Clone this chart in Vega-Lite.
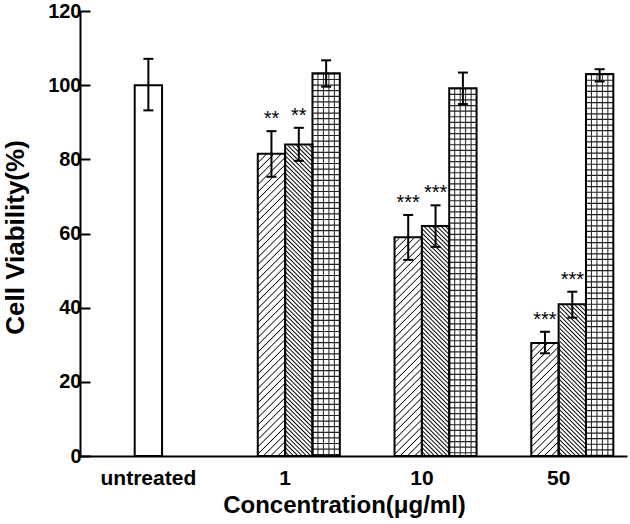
{
"$schema":"https://vega.github.io/schema/vega-lite/v6.json",
"width":547,"height":445,
"autosize":{"type":"none"},
"padding":{"left":80,"top":11,"right":3,"bottom":68},
"background":"white",
"config":{"view":{"stroke":null},"font":"Liberation Sans"},
"data":{"values":[
{"conc":"untreated","series":"u","mean":100,"lo":93.2,"hi":107.1,"sig":""},
{"conc":"1","series":"a","mean":81.5,"lo":75.3,"hi":87.6,"sig":"**"},
{"conc":"1","series":"b","mean":84.0,"lo":79.6,"hi":88.5,"sig":"**"},
{"conc":"1","series":"c","mean":103.2,"lo":99.6,"hi":106.7,"sig":""},
{"conc":"10","series":"a","mean":59.0,"lo":52.9,"hi":65.0,"sig":"***"},
{"conc":"10","series":"b","mean":62.0,"lo":56.4,"hi":67.6,"sig":"***"},
{"conc":"10","series":"c","mean":99.2,"lo":94.9,"hi":103.4,"sig":""},
{"conc":"50","series":"a","mean":30.5,"lo":27.7,"hi":33.5,"sig":"***"},
{"conc":"50","series":"b","mean":40.9,"lo":37.3,"hi":44.3,"sig":"***"},
{"conc":"50","series":"c","mean":103.0,"lo":101.0,"hi":104.3,"sig":""}
]},
"encoding":{
"x":{"field":"conc","type":"nominal","sort":["untreated","1","10","50"],"scale":{"domain":["untreated","1","10","50"],"paddingInner":0.2,"paddingOuter":0.1},"title":"Concentration(μg/ml)",
"axis":{"ticks":false,"labelAngle":0,"labelPadding":11,"labelFont":"Liberation Sans","labelFontSize":21,"labelFontWeight":"bold","labelColor":"#000","domainColor":"#000","domainWidth":2,"titleFont":"Liberation Sans","titleFontSize":24,"titleFontWeight":"bold","titleColor":"#000","titleX":264,"titleY":56,"titleBaseline":"alphabetic","zindex":1,"grid":false}}
},
"layer":[
{"transform":[{"filter":"datum.conc === 'untreated'"}],
"mark":{"type":"bar","width":27.35,"fill":"#fff","stroke":"#000","strokeWidth":2},
"encoding":{"y":{"field":"mean","type":"quantitative","scale":{"domain":[0,120],"nice":false},"title":"Cell Viability(%)",
"axis":{"values":[0,10,20,30,40,50,60,70,80,90,100,110,120],"labelExpr":"datum.value % 20 === 0 ? datum.label : ''","tickSize":{"condition":{"test":"datum.value % 20 === 0","value":-10},"value":-5},"tickWidth":2,"tickColor":"#000","domainColor":"#000","domainWidth":2,"labelFont":"Liberation Sans","labelFontWeight":"bold","labelFontSize":20,"labelColor":"#000","labelPadding":9,"titleFont":"Liberation Sans","titleFontWeight":"bold","titleFontSize":26,"titleColor":"#000","titleX":-57,"titleY":226,"titleAngle":-90,"titleBaseline":"alphabetic","titleAlign":"center","grid":false,"zindex":1}}}},
{"transform":[{"filter":"datum.series === 'a'"}],
"mark":{"type":"bar","strokeWidth":0,"fill":{"gradient":"linear","x1":0,"y1":0,"x2":0.087,"y2":1.074,"stops":[
{"offset":0.017,"color":"#fff"},{"offset":0.02,"color":"#000"},{"offset":0.023,"color":"#fff"},
{"offset":0.037,"color":"#fff"},{"offset":0.04,"color":"#000"},{"offset":0.043,"color":"#fff"},
{"offset":0.057,"color":"#fff"},{"offset":0.06,"color":"#000"},{"offset":0.063,"color":"#fff"},
{"offset":0.077,"color":"#fff"},{"offset":0.08,"color":"#000"},{"offset":0.083,"color":"#fff"},
{"offset":0.097,"color":"#fff"},{"offset":0.1,"color":"#000"},{"offset":0.103,"color":"#fff"},
{"offset":0.117,"color":"#fff"},{"offset":0.12,"color":"#000"},{"offset":0.123,"color":"#fff"},
{"offset":0.137,"color":"#fff"},{"offset":0.14,"color":"#000"},{"offset":0.143,"color":"#fff"},
{"offset":0.157,"color":"#fff"},{"offset":0.16,"color":"#000"},{"offset":0.163,"color":"#fff"},
{"offset":0.177,"color":"#fff"},{"offset":0.18,"color":"#000"},{"offset":0.183,"color":"#fff"},
{"offset":0.197,"color":"#fff"},{"offset":0.2,"color":"#000"},{"offset":0.203,"color":"#fff"},
{"offset":0.217,"color":"#fff"},{"offset":0.22,"color":"#000"},{"offset":0.223,"color":"#fff"},
{"offset":0.237,"color":"#fff"},{"offset":0.24,"color":"#000"},{"offset":0.243,"color":"#fff"},
{"offset":0.257,"color":"#fff"},{"offset":0.26,"color":"#000"},{"offset":0.263,"color":"#fff"},
{"offset":0.277,"color":"#fff"},{"offset":0.28,"color":"#000"},{"offset":0.283,"color":"#fff"},
{"offset":0.297,"color":"#fff"},{"offset":0.3,"color":"#000"},{"offset":0.303,"color":"#fff"},
{"offset":0.317,"color":"#fff"},{"offset":0.32,"color":"#000"},{"offset":0.323,"color":"#fff"},
{"offset":0.337,"color":"#fff"},{"offset":0.34,"color":"#000"},{"offset":0.343,"color":"#fff"},
{"offset":0.357,"color":"#fff"},{"offset":0.36,"color":"#000"},{"offset":0.363,"color":"#fff"},
{"offset":0.377,"color":"#fff"},{"offset":0.38,"color":"#000"},{"offset":0.383,"color":"#fff"},
{"offset":0.397,"color":"#fff"},{"offset":0.4,"color":"#000"},{"offset":0.403,"color":"#fff"},
{"offset":0.417,"color":"#fff"},{"offset":0.42,"color":"#000"},{"offset":0.423,"color":"#fff"},
{"offset":0.437,"color":"#fff"},{"offset":0.44,"color":"#000"},{"offset":0.443,"color":"#fff"},
{"offset":0.457,"color":"#fff"},{"offset":0.46,"color":"#000"},{"offset":0.463,"color":"#fff"},
{"offset":0.477,"color":"#fff"},{"offset":0.48,"color":"#000"},{"offset":0.483,"color":"#fff"},
{"offset":0.497,"color":"#fff"},{"offset":0.5,"color":"#000"},{"offset":0.503,"color":"#fff"},
{"offset":0.517,"color":"#fff"},{"offset":0.52,"color":"#000"},{"offset":0.523,"color":"#fff"},
{"offset":0.537,"color":"#fff"},{"offset":0.54,"color":"#000"},{"offset":0.543,"color":"#fff"},
{"offset":0.557,"color":"#fff"},{"offset":0.56,"color":"#000"},{"offset":0.563,"color":"#fff"},
{"offset":0.577,"color":"#fff"},{"offset":0.58,"color":"#000"},{"offset":0.583,"color":"#fff"},
{"offset":0.597,"color":"#fff"},{"offset":0.6,"color":"#000"},{"offset":0.603,"color":"#fff"},
{"offset":0.617,"color":"#fff"},{"offset":0.62,"color":"#000"},{"offset":0.623,"color":"#fff"},
{"offset":0.637,"color":"#fff"},{"offset":0.64,"color":"#000"},{"offset":0.643,"color":"#fff"},
{"offset":0.657,"color":"#fff"},{"offset":0.66,"color":"#000"},{"offset":0.663,"color":"#fff"},
{"offset":0.677,"color":"#fff"},{"offset":0.68,"color":"#000"},{"offset":0.683,"color":"#fff"},
{"offset":0.697,"color":"#fff"},{"offset":0.7,"color":"#000"},{"offset":0.703,"color":"#fff"},
{"offset":0.717,"color":"#fff"},{"offset":0.72,"color":"#000"},{"offset":0.723,"color":"#fff"},
{"offset":0.737,"color":"#fff"},{"offset":0.74,"color":"#000"},{"offset":0.743,"color":"#fff"},
{"offset":0.757,"color":"#fff"},{"offset":0.76,"color":"#000"},{"offset":0.763,"color":"#fff"},
{"offset":0.777,"color":"#fff"},{"offset":0.78,"color":"#000"},{"offset":0.783,"color":"#fff"},
{"offset":0.797,"color":"#fff"},{"offset":0.8,"color":"#000"},{"offset":0.803,"color":"#fff"},
{"offset":0.817,"color":"#fff"},{"offset":0.82,"color":"#000"},{"offset":0.823,"color":"#fff"},
{"offset":0.837,"color":"#fff"},{"offset":0.84,"color":"#000"},{"offset":0.843,"color":"#fff"},
{"offset":0.857,"color":"#fff"},{"offset":0.86,"color":"#000"},{"offset":0.863,"color":"#fff"},
{"offset":0.877,"color":"#fff"},{"offset":0.88,"color":"#000"},{"offset":0.883,"color":"#fff"},
{"offset":0.897,"color":"#fff"},{"offset":0.9,"color":"#000"},{"offset":0.903,"color":"#fff"},
{"offset":0.917,"color":"#fff"},{"offset":0.92,"color":"#000"},{"offset":0.923,"color":"#fff"},
{"offset":0.937,"color":"#fff"},{"offset":0.94,"color":"#000"},{"offset":0.943,"color":"#fff"},
{"offset":0.957,"color":"#fff"},{"offset":0.96,"color":"#000"},{"offset":0.963,"color":"#fff"},
{"offset":0.977,"color":"#fff"},{"offset":0.98,"color":"#000"},{"offset":0.983,"color":"#fff"}
]}},
"encoding":{"xOffset":{"field":"series","type":"nominal","scale":{"domain":["pad","a","b","c"]}},
"y":{"datum":90.83,"type":"quantitative","title":"Cell Viability(%)"},"y2":{"datum":0}}},
{"transform":[{"filter":"datum.series === 'b'"}],
"mark":{"type":"bar","strokeWidth":0,"fill":{"gradient":"linear","x1":1,"y1":0,"x2":0.90686,"y2":1.0783,"stops":[
{"offset":0.0085,"color":"#fff"},{"offset":0.0125,"color":"#000"},{"offset":0.0165,"color":"#fff"},
{"offset":0.021,"color":"#fff"},{"offset":0.025,"color":"#000"},{"offset":0.029,"color":"#fff"},
{"offset":0.0335,"color":"#fff"},{"offset":0.0375,"color":"#000"},{"offset":0.0415,"color":"#fff"},
{"offset":0.046,"color":"#fff"},{"offset":0.05,"color":"#000"},{"offset":0.054,"color":"#fff"},
{"offset":0.0585,"color":"#fff"},{"offset":0.0625,"color":"#000"},{"offset":0.0665,"color":"#fff"},
{"offset":0.071,"color":"#fff"},{"offset":0.075,"color":"#000"},{"offset":0.079,"color":"#fff"},
{"offset":0.0835,"color":"#fff"},{"offset":0.0875,"color":"#000"},{"offset":0.0915,"color":"#fff"},
{"offset":0.096,"color":"#fff"},{"offset":0.1,"color":"#000"},{"offset":0.104,"color":"#fff"},
{"offset":0.1085,"color":"#fff"},{"offset":0.1125,"color":"#000"},{"offset":0.1165,"color":"#fff"},
{"offset":0.121,"color":"#fff"},{"offset":0.125,"color":"#000"},{"offset":0.129,"color":"#fff"},
{"offset":0.1335,"color":"#fff"},{"offset":0.1375,"color":"#000"},{"offset":0.1415,"color":"#fff"},
{"offset":0.146,"color":"#fff"},{"offset":0.15,"color":"#000"},{"offset":0.154,"color":"#fff"},
{"offset":0.1585,"color":"#fff"},{"offset":0.1625,"color":"#000"},{"offset":0.1665,"color":"#fff"},
{"offset":0.171,"color":"#fff"},{"offset":0.175,"color":"#000"},{"offset":0.179,"color":"#fff"},
{"offset":0.1835,"color":"#fff"},{"offset":0.1875,"color":"#000"},{"offset":0.1915,"color":"#fff"},
{"offset":0.196,"color":"#fff"},{"offset":0.2,"color":"#000"},{"offset":0.204,"color":"#fff"},
{"offset":0.2085,"color":"#fff"},{"offset":0.2125,"color":"#000"},{"offset":0.2165,"color":"#fff"},
{"offset":0.221,"color":"#fff"},{"offset":0.225,"color":"#000"},{"offset":0.229,"color":"#fff"},
{"offset":0.2335,"color":"#fff"},{"offset":0.2375,"color":"#000"},{"offset":0.2415,"color":"#fff"},
{"offset":0.246,"color":"#fff"},{"offset":0.25,"color":"#000"},{"offset":0.254,"color":"#fff"},
{"offset":0.2585,"color":"#fff"},{"offset":0.2625,"color":"#000"},{"offset":0.2665,"color":"#fff"},
{"offset":0.271,"color":"#fff"},{"offset":0.275,"color":"#000"},{"offset":0.279,"color":"#fff"},
{"offset":0.2835,"color":"#fff"},{"offset":0.2875,"color":"#000"},{"offset":0.2915,"color":"#fff"},
{"offset":0.296,"color":"#fff"},{"offset":0.3,"color":"#000"},{"offset":0.304,"color":"#fff"},
{"offset":0.3085,"color":"#fff"},{"offset":0.3125,"color":"#000"},{"offset":0.3165,"color":"#fff"},
{"offset":0.321,"color":"#fff"},{"offset":0.325,"color":"#000"},{"offset":0.329,"color":"#fff"},
{"offset":0.3335,"color":"#fff"},{"offset":0.3375,"color":"#000"},{"offset":0.3415,"color":"#fff"},
{"offset":0.346,"color":"#fff"},{"offset":0.35,"color":"#000"},{"offset":0.354,"color":"#fff"},
{"offset":0.3585,"color":"#fff"},{"offset":0.3625,"color":"#000"},{"offset":0.3665,"color":"#fff"},
{"offset":0.371,"color":"#fff"},{"offset":0.375,"color":"#000"},{"offset":0.379,"color":"#fff"},
{"offset":0.3835,"color":"#fff"},{"offset":0.3875,"color":"#000"},{"offset":0.3915,"color":"#fff"},
{"offset":0.396,"color":"#fff"},{"offset":0.4,"color":"#000"},{"offset":0.404,"color":"#fff"},
{"offset":0.4085,"color":"#fff"},{"offset":0.4125,"color":"#000"},{"offset":0.4165,"color":"#fff"},
{"offset":0.421,"color":"#fff"},{"offset":0.425,"color":"#000"},{"offset":0.429,"color":"#fff"},
{"offset":0.4335,"color":"#fff"},{"offset":0.4375,"color":"#000"},{"offset":0.4415,"color":"#fff"},
{"offset":0.446,"color":"#fff"},{"offset":0.45,"color":"#000"},{"offset":0.454,"color":"#fff"},
{"offset":0.4585,"color":"#fff"},{"offset":0.4625,"color":"#000"},{"offset":0.4665,"color":"#fff"},
{"offset":0.471,"color":"#fff"},{"offset":0.475,"color":"#000"},{"offset":0.479,"color":"#fff"},
{"offset":0.4835,"color":"#fff"},{"offset":0.4875,"color":"#000"},{"offset":0.4915,"color":"#fff"},
{"offset":0.496,"color":"#fff"},{"offset":0.5,"color":"#000"},{"offset":0.504,"color":"#fff"},
{"offset":0.5085,"color":"#fff"},{"offset":0.5125,"color":"#000"},{"offset":0.5165,"color":"#fff"},
{"offset":0.521,"color":"#fff"},{"offset":0.525,"color":"#000"},{"offset":0.529,"color":"#fff"},
{"offset":0.5335,"color":"#fff"},{"offset":0.5375,"color":"#000"},{"offset":0.5415,"color":"#fff"},
{"offset":0.546,"color":"#fff"},{"offset":0.55,"color":"#000"},{"offset":0.554,"color":"#fff"},
{"offset":0.5585,"color":"#fff"},{"offset":0.5625,"color":"#000"},{"offset":0.5665,"color":"#fff"},
{"offset":0.571,"color":"#fff"},{"offset":0.575,"color":"#000"},{"offset":0.579,"color":"#fff"},
{"offset":0.5835,"color":"#fff"},{"offset":0.5875,"color":"#000"},{"offset":0.5915,"color":"#fff"},
{"offset":0.596,"color":"#fff"},{"offset":0.6,"color":"#000"},{"offset":0.604,"color":"#fff"},
{"offset":0.6085,"color":"#fff"},{"offset":0.6125,"color":"#000"},{"offset":0.6165,"color":"#fff"},
{"offset":0.621,"color":"#fff"},{"offset":0.625,"color":"#000"},{"offset":0.629,"color":"#fff"},
{"offset":0.6335,"color":"#fff"},{"offset":0.6375,"color":"#000"},{"offset":0.6415,"color":"#fff"},
{"offset":0.646,"color":"#fff"},{"offset":0.65,"color":"#000"},{"offset":0.654,"color":"#fff"},
{"offset":0.6585,"color":"#fff"},{"offset":0.6625,"color":"#000"},{"offset":0.6665,"color":"#fff"},
{"offset":0.671,"color":"#fff"},{"offset":0.675,"color":"#000"},{"offset":0.679,"color":"#fff"},
{"offset":0.6835,"color":"#fff"},{"offset":0.6875,"color":"#000"},{"offset":0.6915,"color":"#fff"},
{"offset":0.696,"color":"#fff"},{"offset":0.7,"color":"#000"},{"offset":0.704,"color":"#fff"},
{"offset":0.7085,"color":"#fff"},{"offset":0.7125,"color":"#000"},{"offset":0.7165,"color":"#fff"},
{"offset":0.721,"color":"#fff"},{"offset":0.725,"color":"#000"},{"offset":0.729,"color":"#fff"},
{"offset":0.7335,"color":"#fff"},{"offset":0.7375,"color":"#000"},{"offset":0.7415,"color":"#fff"},
{"offset":0.746,"color":"#fff"},{"offset":0.75,"color":"#000"},{"offset":0.754,"color":"#fff"},
{"offset":0.7585,"color":"#fff"},{"offset":0.7625,"color":"#000"},{"offset":0.7665,"color":"#fff"},
{"offset":0.771,"color":"#fff"},{"offset":0.775,"color":"#000"},{"offset":0.779,"color":"#fff"},
{"offset":0.7835,"color":"#fff"},{"offset":0.7875,"color":"#000"},{"offset":0.7915,"color":"#fff"},
{"offset":0.796,"color":"#fff"},{"offset":0.8,"color":"#000"},{"offset":0.804,"color":"#fff"},
{"offset":0.8085,"color":"#fff"},{"offset":0.8125,"color":"#000"},{"offset":0.8165,"color":"#fff"},
{"offset":0.821,"color":"#fff"},{"offset":0.825,"color":"#000"},{"offset":0.829,"color":"#fff"},
{"offset":0.8335,"color":"#fff"},{"offset":0.8375,"color":"#000"},{"offset":0.8415,"color":"#fff"},
{"offset":0.846,"color":"#fff"},{"offset":0.85,"color":"#000"},{"offset":0.854,"color":"#fff"},
{"offset":0.8585,"color":"#fff"},{"offset":0.8625,"color":"#000"},{"offset":0.8665,"color":"#fff"},
{"offset":0.871,"color":"#fff"},{"offset":0.875,"color":"#000"},{"offset":0.879,"color":"#fff"},
{"offset":0.8835,"color":"#fff"},{"offset":0.8875,"color":"#000"},{"offset":0.8915,"color":"#fff"},
{"offset":0.896,"color":"#fff"},{"offset":0.9,"color":"#000"},{"offset":0.904,"color":"#fff"},
{"offset":0.9085,"color":"#fff"},{"offset":0.9125,"color":"#000"},{"offset":0.9165,"color":"#fff"},
{"offset":0.921,"color":"#fff"},{"offset":0.925,"color":"#000"},{"offset":0.929,"color":"#fff"},
{"offset":0.9335,"color":"#fff"},{"offset":0.9375,"color":"#000"},{"offset":0.9415,"color":"#fff"},
{"offset":0.946,"color":"#fff"},{"offset":0.95,"color":"#000"},{"offset":0.954,"color":"#fff"},
{"offset":0.9585,"color":"#fff"},{"offset":0.9625,"color":"#000"},{"offset":0.9665,"color":"#fff"},
{"offset":0.971,"color":"#fff"},{"offset":0.975,"color":"#000"},{"offset":0.979,"color":"#fff"},
{"offset":0.9835,"color":"#fff"},{"offset":0.9875,"color":"#000"},{"offset":0.9915,"color":"#fff"}
]}},
"encoding":{"xOffset":{"field":"series","type":"nominal","scale":{"domain":["pad","a","b","c"]}},
"y":{"datum":85.2,"type":"quantitative","title":"Cell Viability(%)"},"y2":{"datum":0}}},
{"transform":[{"filter":"datum.series === 'c'"}],
"mark":{"type":"bar","strokeWidth":0,"fill":{"gradient":"linear","x1":0,"y1":0,"x2":1,"y2":0,"stops":[
{"offset":0.163,"color":"#fff"},{"offset":0.2,"color":"#222"},{"offset":0.237,"color":"#fff"},
{"offset":0.363,"color":"#fff"},{"offset":0.4,"color":"#222"},{"offset":0.437,"color":"#fff"},
{"offset":0.563,"color":"#fff"},{"offset":0.6,"color":"#222"},{"offset":0.637,"color":"#fff"},
{"offset":0.763,"color":"#fff"},{"offset":0.8,"color":"#222"},{"offset":0.837,"color":"#fff"}
]}},
"encoding":{"xOffset":{"field":"series","type":"nominal","scale":{"domain":["pad","a","b","c"]}},
"y":{"field":"mean","type":"quantitative","title":"Cell Viability(%)"}}},
{"transform":[{"filter":"datum.series === 'c'"}],
"mark":{"type":"rule","strokeWidth":27.35,"color":"#222","strokeDash":[1.2,4.4],"strokeCap":"butt"},
"encoding":{"xOffset":{"field":"series","type":"nominal","scale":{"domain":["pad","a","b","c"]}},
"y":{"field":"mean","type":"quantitative","title":"Cell Viability(%)"},"y2":{"datum":0}}},
{"transform":[{"filter":"datum.series === 'a' || datum.series === 'b'"}],
"mark":{"type":"bar","fill":"#fff","stroke":"#fff","strokeWidth":2},
"encoding":{"xOffset":{"field":"series","type":"nominal","scale":{"domain":["pad","a","b","c"]}},
"y":{"field":"mean","type":"quantitative","title":"Cell Viability(%)"},"y2":{"datum":95}}},
{"transform":[{"filter":"datum.conc !== 'untreated'"}],
"mark":{"type":"bar","fill":"transparent","stroke":"#000","strokeWidth":2},
"encoding":{"xOffset":{"field":"series","type":"nominal","scale":{"domain":["pad","a","b","c"]}},
"y":{"field":"mean","type":"quantitative","title":"Cell Viability(%)"}}},
{"transform":[{"filter":"datum.conc !== 'untreated'"}],
"mark":{"type":"rule","strokeWidth":2,"color":"#000"},
"encoding":{"xOffset":{"field":"series","type":"nominal","scale":{"domain":["pad","a","b","c"]}},
"y":{"field":"lo","type":"quantitative","title":"Cell Viability(%)"},"y2":{"field":"hi"}}},
{"transform":[{"filter":"datum.conc !== 'untreated'"}],
"mark":{"type":"tick","thickness":2,"color":"#000","opacity":1},
"encoding":{"xOffset":{"field":"series","type":"nominal","scale":{"domain":["pad","a","b","c"]}},
"y":{"field":"lo","type":"quantitative","title":"Cell Viability(%)"},"size":{"value":10}}},
{"transform":[{"filter":"datum.conc !== 'untreated'"}],
"mark":{"type":"tick","thickness":2,"color":"#000","opacity":1},
"encoding":{"xOffset":{"field":"series","type":"nominal","scale":{"domain":["pad","a","b","c"]}},
"y":{"field":"hi","type":"quantitative","title":"Cell Viability(%)"},"size":{"value":10}}},
{"transform":[{"filter":"datum.conc === 'untreated'"}],
"mark":{"type":"rule","strokeWidth":2,"color":"#000"},
"encoding":{"y":{"field":"lo","type":"quantitative","title":"Cell Viability(%)"},"y2":{"field":"hi"}}},
{"transform":[{"filter":"datum.conc === 'untreated'"}],
"mark":{"type":"tick","thickness":2,"color":"#000","opacity":1},
"encoding":{"y":{"field":"lo","type":"quantitative","title":"Cell Viability(%)"},"size":{"value":10}}},
{"transform":[{"filter":"datum.conc === 'untreated'"}],
"mark":{"type":"tick","thickness":2,"color":"#000","opacity":1},
"encoding":{"y":{"field":"hi","type":"quantitative","title":"Cell Viability(%)"},"size":{"value":10}}},
{"transform":[{"filter":"datum.sig !== ''"}],
"mark":{"type":"text","fontSize":20,"dy":-6,"baseline":"alphabetic","color":"#000","font":"Liberation Sans"},
"encoding":{"xOffset":{"field":"series","type":"nominal","scale":{"domain":["pad","a","b","c"]}},
"y":{"field":"hi","type":"quantitative","title":"Cell Viability(%)"},"text":{"field":"sig"}}}
]
}
